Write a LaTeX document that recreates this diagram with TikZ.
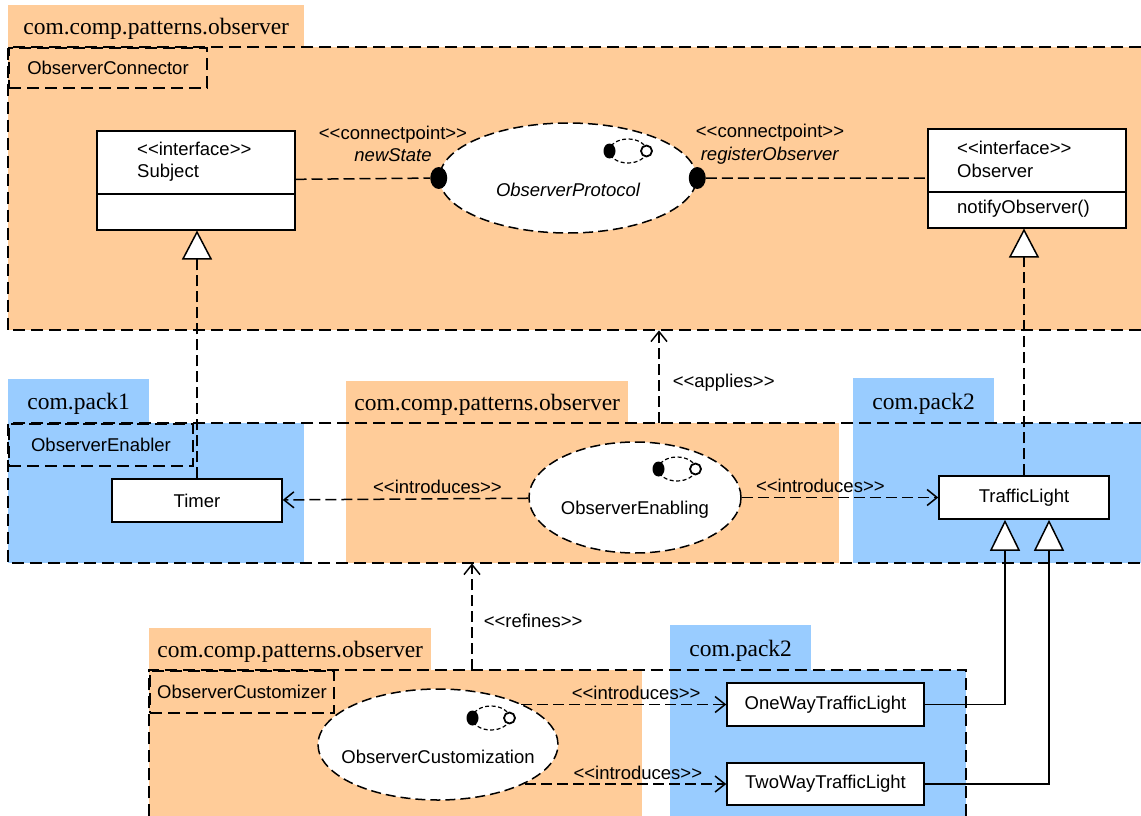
\documentclass[tikz,border=0pt]{standalone}
\usepackage{fontspec}
\setmainfont{Liberation Serif}
\newfontfamily\umlfont{Liberation Sans}
\usetikzlibrary{arrows.meta,positioning,calc,shapes.geometric}
\definecolor{pkgPeach}{RGB}{255,204,153}
\definecolor{pkgBlue}{RGB}{153,204,255}
\tikzset{
  pics/roleicon/.style={code={
      \draw[line width=1.2pt,dash pattern=on 4pt off 2.5pt] (0,0) ellipse [x radius=18.5pt,y radius=12pt];
      \fill[black] (-18.5,0) ellipse [x radius=6pt,y radius=7.5pt];
      \draw[line width=1.8pt,fill=white] (18.5,0) circle [radius=5.5pt];
    }}
}

\begin{document}
\begin{tikzpicture}[x=1pt,y=-1pt,
    pkgtab/.style={inner sep=0pt,anchor=north west,text height=22pt,font=\fontsize{23.5}{26}\selectfont},
    pkgbody/.style={inner sep=0pt,anchor=north west},
    frame/.style={line width=2pt,dash pattern=on 12pt off 6pt},
    namebox/.style={draw,line width=2pt,dash pattern=on 12pt off 6pt,anchor=north west,inner sep=0pt,font=\umlfont\fontsize{18.5}{22}\selectfont},
    classbox/.style={draw,fill=white,line width=1.5pt,anchor=north west,inner sep=0pt,minimum width=198pt,minimum height=99pt},
    plainclass/.style={draw,fill=white,line width=1.5pt,inner sep=0pt,minimum height=43pt,font=\umlfont\fontsize{18.5}{22}\selectfont},
    umltext/.style={font=\umlfont\fontsize{18.5}{22.5}\selectfont,inner sep=1pt},
    collab/.style={ellipse,draw,fill=white,line width=1.5pt,dash pattern=on 10pt off 5pt,inner sep=0pt},
    cpoint/.style={ellipse,fill=black,minimum width=17pt,minimum height=22pt,inner sep=0pt},
    conn/.style={line width=1.5pt,dash pattern=on 11pt off 5pt},
    dep/.style={conn,-{Straight Barb[length=10pt,width=16pt]}},
    realize/.style={conn,-{Triangle[length=29pt,width=30pt,fill=white]}},
    inherit/.style={line width=1.5pt,-{Triangle[length=31pt,width=30pt,fill=white]}}
  ]
  \useasboundingbox (0,0) rectangle (1141,816);

  % ObserverConnector
  \node[pkgtab,fill=pkgPeach,minimum width=296pt,minimum height=42pt] (topTab) at (8,5) {com.comp.patterns.observer};
  \node[pkgbody,fill=pkgPeach,minimum width=1133pt,minimum height=283pt] (topBody) at (8,47) {};
  \draw[frame] (topBody.north east) -- (topBody.north west) -- (topBody.south west) -- (topBody.south east);
  \node[namebox,minimum width=198pt,minimum height=40pt] (connectorName) at (topBody.north west) {ObserverConnector};

  \node[classbox] (subject) at (96,130) {};
  \draw[line width=1.5pt] ($(subject.north west)+(0,64)$) -- ($(subject.north east)+(0,64)$);
  \node[umltext,anchor=west,align=left] (subjectName) at (136,161.5) {<<interface>>\\Subject};

  \node[classbox] (observer) at (927,128) {};
  \draw[line width=1.5pt] ($(observer.north west)+(0,64)$) -- ($(observer.north east)+(0,64)$);
  \node[umltext,anchor=west,align=left] (observerName) at (956,159.5) {<<interface>>\\Observer};
  \node[umltext,anchor=west] (notifyOp) at (956,209) {notifyObserver()};

  \node[collab,minimum width=257pt,minimum height=110pt,
    label={[umltext,yshift=-12pt]center:\itshape ObserverProtocol}] (protocol) at (568,178) {};
  \pic at (628,151) {roleicon};
  \node[cpoint] (cpNew) at (protocol.west) {};
  \node[cpoint] (cpRegister) at (protocol.east) {};
  \node[umltext,align=center] (newStateLbl) at (393,144) {<<connectpoint>>\\\textit{newState}};
  \node[umltext,align=center] (registerLbl) at (770,144) {<<connectpoint>>\\\textit{registerObserver}};
  \draw[conn] (subject) -- (cpNew);
  \draw[conn] (cpRegister) -- (observer);

  % ObserverEnabler
  \node[pkgtab,fill=pkgBlue,minimum width=141pt,minimum height=44pt] (pack1Tab) at (8,379) {com.pack1};
  \node[pkgbody,fill=pkgBlue,minimum width=296pt,minimum height=140pt] (pack1Body) at (8,423) {};
  \node[pkgtab,fill=pkgPeach,minimum width=282pt,minimum height=42pt] (enableTab) at (346,381) {com.comp.patterns.observer};
  \node[pkgbody,fill=pkgPeach,minimum width=493pt,minimum height=140pt] (enableBody) at (346,423) {};
  \node[pkgtab,fill=pkgBlue,minimum width=141pt,minimum height=45pt] (pack2Tab) at (853,378) {com.pack2};
  \node[pkgbody,fill=pkgBlue,minimum width=288pt,minimum height=140pt] (pack2Body) at (853,423) {};
  \draw[frame] (pack2Body.north east) -- (pack1Body.north west) -- (pack1Body.south west) -- (pack2Body.south east);
  \node[namebox,minimum width=184pt,minimum height=42pt] (enablerName) at (pack1Body.north west) {ObserverEnabler};

  \node[plainclass,minimum width=170pt] (timer) at (197,500.5) {Timer};
  \node[plainclass,minimum width=170pt] (traffic) at (1024,497.5) {TrafficLight};
  \node[collab,minimum width=212pt,minimum height=111pt,
    label={[umltext,yshift=-12pt]center:ObserverEnabling}] (enabling) at (635,497.5) {};
  \pic at (677,469) {roleicon};

  \draw[dep] (enabling) -- node[umltext,pos=0.37,above=3pt] (introTimer) {<<introduces>>} (timer);
  \draw[dep] (enabling) -- node[umltext,pos=0.40,above=3pt] (introTraffic) {<<introduces>>} (traffic);
  \draw[realize] (timer.north) -- (timer.north |- subject.south);
  \draw[realize] (traffic.north) -- (traffic.north |- observer.south);

  \coordinate (appliesX) at (659,0);
  \draw[dep] (enableBody.north -| appliesX) -- node[umltext,pos=0.44,right=12pt] (appliesLbl) {<<applies>>} (topBody.south -| appliesX);

  % ObserverCustomizer
  \node[pkgtab,fill=pkgPeach,minimum width=282pt,minimum height=42pt] (customTab) at (149,628) {com.comp.patterns.observer};
  \node[pkgbody,fill=pkgPeach,minimum width=493pt,minimum height=146pt] (customBody) at (149,670) {};
  \node[pkgtab,fill=pkgBlue,minimum width=141pt,minimum height=45pt] (pack2bTab) at (670,625) {com.pack2};
  \node[pkgbody,fill=pkgBlue,minimum width=296pt,minimum height=146pt] (pack2bBody) at (670,670) {};
  \draw[frame] (customBody.south west) -- (customBody.north west) -- (pack2bBody.north east) -- (pack2bBody.south east);
  \node[namebox,minimum width=184pt,minimum height=42pt] (customizerName) at (customBody.north west) {ObserverCustomizer};

  \coordinate (refinesX) at (472,0);
  \draw[dep] (customBody.north -| refinesX) -- node[umltext,pos=0.46,right=10pt] (refinesLbl) {<<refines>>} (pack1Body.south -| refinesX);

  \node[collab,minimum width=240pt,minimum height=111pt,
    label={[umltext,yshift=-12pt]center:ObserverCustomization}] (custom) at (438,744.5) {};
  \pic at (491,718) {roleicon};

  \node[plainclass,minimum width=197pt] (oneway) at (825.5,704.5) {OneWayTrafficLight};
  \node[plainclass,minimum width=197pt,minimum height=42pt] (twoway) at (825.5,784) {TwoWayTrafficLight};

  \draw[dep] (custom.26 |- oneway.west) -- node[umltext,pos=0.56,above=3pt] (introOne) {<<introduces>>} (oneway.west);
  \draw[dep] (custom.-24 |- twoway.west) -- node[umltext,pos=0.56,above=3pt] (introTwo) {<<introduces>>} (twoway.west);
  \draw[inherit] (oneway.east) -| ([xshift=-19pt]traffic.south);
  \draw[inherit] (twoway.east) -| ([xshift=25pt]traffic.south);
\end{tikzpicture}
\end{document}
